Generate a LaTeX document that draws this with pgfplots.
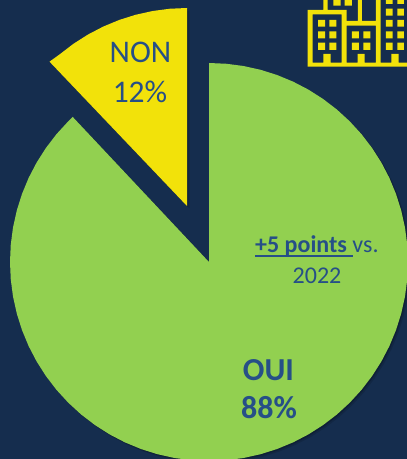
\documentclass[border=0pt]{standalone}
\usepackage{fontspec}
\setmainfont{Carlito}
\usepackage{pgfplots}
\usepackage{pgfplotstable}
\pgfplotsset{compat=1.18}
\definecolor{bg}{RGB}{21,45,78}
\definecolor{oui}{RGB}{146,208,80}
\definecolor{non}{RGB}{242,226,10}
\definecolor{txt}{RGB}{38,79,135}
\pgfplotstableread{
x y
209 197
209 396
226.34 395.24
243.56 392.98
260.51 389.22
277.06 384.0
293.10 377.36
308.5 369.34
323.14 360.01
336.92 349.44
349.71 337.71
361.44 324.92
372.01 311.14
381.34 296.5
389.36 281.10
396.0 265.06
401.22 248.51
404.98 231.56
407.24 214.34
408 197
407.24 179.66
404.98 162.44
401.22 145.49
396.0 128.94
389.36 112.90
381.34 97.5
372.01 82.86
361.44 69.08
349.71 56.29
336.92 44.56
323.14 33.99
308.5 24.66
293.10 16.64
277.06 10.0
260.51 4.78
243.56 1.02
226.34 -1.24
209 -2
191.66 -1.24
174.44 1.02
157.49 4.78
140.94 10
124.9 16.64
109.5 24.66
94.86 33.99
81.08 44.56
68.29 56.29
56.56 69.08
45.99 82.86
36.66 97.5
28.64 112.9
22 128.94
16.78 145.49
13.02 162.44
10.76 179.66
10 197
10.76 214.34
13.02 231.56
16.78 248.51
22 265.06
28.64 281.1
36.66 296.5
45.99 311.14
56.56 324.92
68.29 337.71
72.75 342.05
209 197
}\ouitable
\pgfplotstableread{
x y
187 253
49.5 397.34
59.73 404.68
73.43 415.19
88 424.47
103.32 432.45
119.28 439.06
135.75 444.25
152.62 447.99
169.74 450.25
187 451
187 253
}\nontable
\begin{document}
\begin{tikzpicture}
\begin{axis}[
  scale only axis, width=407pt, height=459pt,
  xmin=0, xmax=407, ymin=0, ymax=459,
  hide axis, clip=true,
]
\addplot[fill=bg, draw=none, forget plot] coordinates {(0,0)(407,0)(407,459)(0,459)} -- cycle;
\addplot[fill=black, draw=none, opacity=0.12, xshift=2.5pt, yshift=-2.5pt] table[x=x,y=y] {\ouitable} -- cycle;
\addplot[fill=black, draw=none, opacity=0.2, xshift=1.2pt, yshift=-1.2pt] table[x=x,y=y] {\ouitable} -- cycle;
\addplot[fill=black, draw=none, opacity=0.12, xshift=2.5pt, yshift=-2.5pt] table[x=x,y=y] {\nontable} -- cycle;
\addplot[fill=black, draw=none, opacity=0.2, xshift=1.2pt, yshift=-1.2pt] table[x=x,y=y] {\nontable} -- cycle;
\addplot[fill=oui, draw=none] table[x=x,y=y] {\ouitable} -- cycle;
\addplot[fill=non, draw=none] table[x=x,y=y] {\nontable} -- cycle;
\node[anchor=base, text=txt, font=\fontsize{31.5}{36}\selectfont, inner sep=0pt] at (axis cs:140.5,396) {NON};
\node[anchor=base, text=txt, font=\fontsize{31.5}{36}\selectfont, inner sep=0pt] at (axis cs:140,356) {12\%};
\node[anchor=base, text=txt, font=\fontsize{32}{36}\selectfont\bfseries, inner sep=0pt] at (axis cs:268.5,79) {OUI};
\node[anchor=base, text=txt, font=\fontsize{32}{36}\selectfont\bfseries, inner sep=0pt] at (axis cs:269,40) {88\%};
\node[anchor=base west, text=txt, font=\fontsize{24}{26}\selectfont, inner sep=0pt] at (axis cs:255,206) {\rlap{\rule[-3.6pt]{98pt}{1.3pt}}\textbf{+5 points }vs.};
\node[anchor=base, text=txt, font=\fontsize{24}{26}\selectfont, inner sep=0pt] at (axis cs:317,176) {2022};
\end{axis}
\begin{scope}[shift={(290pt,459pt)}, x=0.33333pt, y=-0.33333pt]
\clip (0,0) rectangle (351,240);
\fill[non]
  (53,188) rectangle (351,200)
  (53,30) rectangle (68,200)
  (53,30) rectangle (168,43)
  (155,30) rectangle (170,200)
  (168,63) rectangle (272,77)
  (258,0) rectangle (272,200)
  (100,0) rectangle (113,30)
  (204,0) rectangle (216,63)
  (84,60) rectangle (105,80) (118,60) rectangle (139,80)
  (84,94) rectangle (105,115) (118,94) rectangle (139,115)
  (84,128) rectangle (105,150) (118,128) rectangle (139,150)
  (186,94) rectangle (207,115) (220,94) rectangle (241,115)
  (186,128) rectangle (207,150) (220,128) rectangle (241,150)
  (288,0) rectangle (308,12) (322,0) rectangle (342,12)
  (288,26) rectangle (308,47) (322,26) rectangle (342,47)
  (288,60) rectangle (308,80) (322,60) rectangle (342,80)
  (288,94) rectangle (308,115) (322,94) rectangle (342,115)
  (288,128) rectangle (308,150) (322,128) rectangle (342,150)
  (130,0) rectangle (152,17) (164,0) rectangle (186,17)
  (100,162) rectangle (122,190)
  (203,162) rectangle (224,190)
  (304,162) rectangle (326,190);
\end{scope}
\end{tikzpicture}
\end{document}
